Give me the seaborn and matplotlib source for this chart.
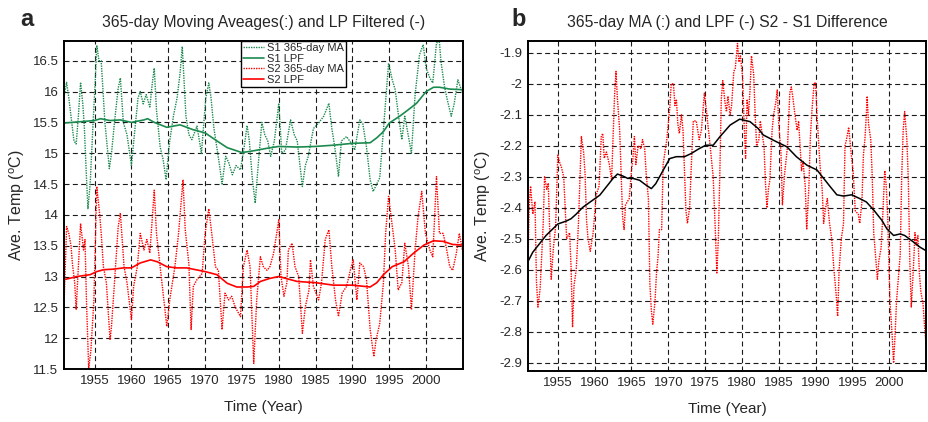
import matplotlib
matplotlib.use("Agg")
import matplotlib.pyplot as plt
import seaborn as sns
import pandas as pd

# ---- panel a: S1 365-day moving average
s1_ma_year = [1950.9, 1951.2, 1951.5, 1951.8, 1952.2, 1952.5, 1952.8, 1953.1, 1953.4, 1953.6,
              1953.9, 1954.1, 1954.4, 1954.8, 1955.1, 1955.3, 1955.6, 1955.9, 1956.4, 1957.0,
              1957.3, 1957.7, 1958.2, 1958.5, 1958.9, 1959.4, 1960.0, 1960.4, 1960.9, 1961.2,
              1961.6, 1962.0, 1962.5, 1962.8, 1963.1, 1963.4, 1963.9, 1964.3, 1964.7, 1965.2,
              1965.7, 1966.2, 1966.6, 1966.9, 1967.4, 1967.8, 1968.2, 1968.9, 1969.5, 1970.1,
              1970.5, 1970.8, 1971.2, 1971.9, 1972.3, 1972.8, 1973.2, 1973.7, 1974.2, 1974.8,
              1975.3, 1975.7, 1976.0, 1976.4, 1976.8, 1977.2, 1977.7, 1978.1, 1978.5, 1978.9,
              1979.4, 1980.0, 1980.4, 1980.9, 1981.6, 1982.1, 1982.5, 1983.2, 1983.6, 1984.0,
              1984.7, 1985.4, 1986.1, 1986.8, 1987.2, 1987.6, 1988.1, 1988.5, 1989.2, 1989.9,
              1990.3, 1991.0, 1991.4, 1991.9, 1992.4, 1992.8, 1993.3, 1993.7, 1994.2, 1994.9,
              1995.4, 1995.8, 1996.2, 1996.7, 1997.1, 1997.6, 1998.0, 1998.5, 1999.1, 1999.6,
              2000.0, 2000.5, 2000.9, 2001.4, 2001.8, 2002.0, 2002.5, 2002.9, 2003.4, 2003.8,
              2004.3, 2005.0]
s1_ma = [15.95, 16.15, 15.9, 15.6, 15.2, 15.15, 15.6, 16.15, 15.8, 15.45,
         14.6, 14.1, 14.5, 15.5, 16.2, 16.75, 16.5, 16.5, 15.5, 14.75,
         15.0, 15.5, 16.05, 16.22, 15.5, 15.3, 14.8, 15.3, 15.9, 16.0,
         15.8, 15.95, 15.75, 16.1, 16.38, 15.7, 15.1, 14.9, 14.57, 15.2,
         15.6, 15.9, 16.3, 16.73, 15.6, 15.3, 15.22, 15.44, 15.0, 15.9,
         16.14, 15.9, 15.4, 14.85, 14.5, 14.95, 14.85, 14.65, 14.8, 14.73,
         15.1, 15.45, 15.2, 14.6, 14.19, 14.8, 15.5, 15.3, 15.2, 14.95,
         15.2, 15.81, 15.0, 15.05, 15.54, 15.3, 15.2, 14.46, 14.8, 14.95,
         15.4, 15.49, 15.6, 15.81, 15.4, 15.1, 14.62, 15.2, 15.27, 15.15,
         15.05, 15.54, 15.48, 15.1, 14.57, 14.38, 14.5, 14.6, 15.38, 16.46,
         16.19, 16.03, 15.65, 15.22, 15.6, 15.27, 15.0, 15.95, 16.6, 16.76,
         16.38, 16.22, 16.14, 16.79, 16.8, 16.5, 16.07, 15.85, 15.6, 15.8,
         16.19, 15.95]

# ---- panel a: S2 365-day moving average
s2_ma_year = [1950.9, 1951.2, 1951.5, 1951.8, 1952.0, 1952.3, 1952.5, 1952.8, 1953.1, 1953.5,
              1953.7, 1953.9, 1954.2, 1954.5, 1954.9, 1955.3, 1955.7, 1955.9, 1956.2, 1956.6,
              1957.1, 1957.3, 1957.7, 1958.2, 1958.5, 1959.0, 1959.4, 1960.0, 1960.3, 1960.8,
              1961.2, 1961.7, 1962.1, 1962.5, 1963.1, 1963.4, 1963.9, 1964.3, 1964.8, 1965.2,
              1965.9, 1966.4, 1967.0, 1967.3, 1967.8, 1968.1, 1968.4, 1968.9, 1969.6, 1970.0,
              1970.5, 1970.9, 1971.4, 1971.8, 1972.3, 1972.7, 1973.2, 1973.6, 1974.1, 1974.8,
              1975.2, 1975.7, 1976.1, 1976.6, 1977.0, 1977.5, 1977.9, 1978.4, 1978.8, 1979.3,
              1980.0, 1980.3, 1980.7, 1981.1, 1981.3, 1981.8, 1982.2, 1982.7, 1983.2, 1983.6,
              1984.1, 1984.3, 1984.7, 1985.4, 1985.8, 1986.3, 1986.8, 1987.2, 1987.7, 1988.1,
              1988.6, 1989.2, 1989.7, 1990.1, 1990.6, 1991.0, 1991.5, 1991.9, 1992.4, 1992.9,
              1993.2, 1993.7, 1994.2, 1994.5, 1994.9, 1995.4, 1995.8, 1996.2, 1996.7, 1997.1,
              1997.6, 1998.0, 1998.5, 1998.9, 1999.4, 1999.9, 2000.5, 2000.9, 2001.4, 2001.8,
              2002.3, 2002.7, 2003.2, 2003.6, 2004.1, 2004.5, 2005.0]
s2_ma = [12.7, 13.81, 13.7, 13.5, 13.2, 12.9, 12.46, 13.16, 13.86, 13.43,
         13.6, 12.6, 11.51, 11.8, 12.6, 14.46, 14.0, 13.7, 13.16, 12.9,
         11.97, 12.2, 12.9, 13.8, 14.03, 13.16, 12.9, 12.3, 12.84, 13.16,
         13.7, 13.43, 13.6, 13.38, 14.4, 13.7, 13.16, 12.73, 12.19, 12.62,
         13.16, 13.7, 14.57, 13.76, 13.2, 12.14, 12.84, 12.95, 13.05, 13.7,
         14.1, 13.7, 13.16, 13.1, 12.14, 12.73, 12.62, 12.68, 12.5, 12.35,
         13.16, 13.43, 13.16, 11.59, 12.62, 13.32, 13.16, 13.1, 13.16, 13.38,
         13.92, 13.0, 12.68, 12.9, 13.43, 13.54, 13.16, 13.0, 12.08, 12.51,
         12.78, 13.27, 12.84, 12.62, 12.9, 13.6, 13.76, 13.16, 12.62, 12.35,
         12.73, 12.84, 13.1, 13.27, 12.62, 13.22, 13.16, 12.95, 12.14, 11.7,
         11.97, 12.24, 12.9, 13.7, 14.3, 13.82, 13.43, 12.78, 12.9, 13.54,
         13.16, 12.46, 13.43, 13.97, 14.38, 13.7, 13.43, 13.32, 14.62, 13.7,
         13.7, 13.49, 13.16, 13.1, 13.38, 13.7, 13.38]

# ---- panel a: low-pass filtered curves
s1_lpf_year = [1950.9, 1953.0, 1955.0, 1955.8, 1957.1, 1958.5, 1960.0, 1961.7, 1962.2, 1963.1,
               1964.8, 1966.6, 1968.4, 1970.0, 1971.6, 1973.0, 1975.0, 1976.6, 1978.4, 1980.0,
               1982.5, 1985.0, 1987.4, 1990.0, 1992.4, 1993.3, 1994.2, 1995.0, 1996.4, 1997.3,
               1998.7, 2000.0, 2001.0, 2001.8, 2003.2, 2005.0]
s1_lpf = [15.49, 15.51, 15.53, 15.56, 15.53, 15.54, 15.5, 15.54, 15.56, 15.5,
          15.42, 15.46, 15.38, 15.33, 15.2, 15.09, 15.01, 15.04, 15.08, 15.11,
          15.1, 15.11, 15.13, 15.16, 15.17, 15.25, 15.35, 15.49, 15.6, 15.68,
          15.81, 16.0, 16.07, 16.07, 16.04, 16.03]
s2_lpf_year = [1950.9, 1952.6, 1954.4, 1955.3, 1956.2, 1957.6, 1958.9, 1960.0, 1961.2, 1962.6,
               1963.5, 1964.8, 1966.1, 1967.5, 1970.0, 1971.6, 1973.0, 1974.3, 1975.7, 1976.6,
               1977.5, 1978.8, 1980.0, 1982.5, 1985.0, 1987.4, 1990.0, 1992.4, 1993.3, 1994.2,
               1995.4, 1997.0, 1998.3, 1999.7, 2001.0, 2002.3, 2003.6, 2005.0]
s2_lpf = [12.95, 13.0, 13.03, 13.08, 13.11, 13.12, 13.14, 13.14, 13.22, 13.27,
          13.24, 13.16, 13.14, 13.14, 13.08, 13.03, 12.89, 12.83, 12.83, 12.84,
          12.92, 12.97, 13.0, 12.92, 12.9, 12.86, 12.86, 12.83, 12.9, 13.03,
          13.16, 13.24, 13.38, 13.51, 13.58, 13.57, 13.52, 13.51]

# ---- panel b: S2 - S1 difference, 365-day MA
diff_ma_year = [1950.9, 1951.1, 1951.3, 1951.6, 1951.9, 1952.1, 1952.3, 1952.6, 1953.0, 1953.2,
                1953.5, 1953.7, 1953.9, 1954.1, 1954.4, 1954.7, 1955.0, 1955.2, 1955.5, 1955.8,
                1956.2, 1956.6, 1956.8, 1957.0, 1957.2, 1957.5, 1957.8, 1958.2, 1958.5, 1958.7,
                1958.9, 1959.1, 1959.4, 1959.8, 1960.2, 1960.6, 1960.9, 1961.1, 1961.3, 1961.6,
                1962.0, 1962.3, 1962.7, 1962.9, 1963.1, 1963.4, 1963.6, 1963.8, 1964.0, 1964.2,
                1964.7, 1965.0, 1965.2, 1965.4, 1965.6, 1965.9, 1966.3, 1966.5, 1966.8, 1967.0,
                1967.3, 1967.5, 1967.7, 1967.9, 1968.2, 1968.4, 1968.6, 1968.8, 1969.1, 1969.3,
                1969.8, 1970.2, 1970.4, 1970.7, 1970.9, 1971.1, 1971.3, 1971.5, 1971.8, 1972.0,
                1972.2, 1972.4, 1972.6, 1972.9, 1973.1, 1973.4, 1973.8, 1974.2, 1974.5, 1974.9,
                1975.2, 1975.6, 1976.1, 1976.4, 1976.6, 1976.8, 1977.0, 1977.2, 1977.4, 1977.7,
                1977.9, 1978.1, 1978.4, 1978.6, 1978.9, 1979.1, 1979.4, 1979.6, 1979.8, 1980.1,
                1980.3, 1980.5, 1980.7, 1980.9, 1981.1, 1981.3, 1981.6, 1981.8, 1982.0, 1982.3,
                1982.5, 1982.8, 1983.0, 1983.2, 1983.4, 1983.6, 1983.8, 1984.1, 1984.3, 1984.6,
                1984.8, 1985.0, 1985.3, 1985.5, 1985.8, 1986.2, 1986.5, 1986.7, 1986.9, 1987.2,
                1987.5, 1987.7, 1987.9, 1988.1, 1988.3, 1988.6, 1988.8, 1989.1, 1989.3, 1989.5,
                1989.8, 1990.0, 1990.2, 1990.4, 1990.6, 1990.9, 1991.1, 1991.3, 1991.6, 1991.9,
                1992.2, 1992.5, 1992.8, 1993.0, 1993.2, 1993.5, 1993.8, 1994.0, 1994.2, 1994.5,
                1994.9, 1995.1, 1995.4, 1995.8, 1996.0, 1996.3, 1996.5, 1996.7, 1996.9, 1997.0,
                1997.2, 1997.5, 1997.7, 1997.9, 1998.2, 1998.4, 1998.6, 1998.9, 1999.1, 1999.4,
                1999.6, 1999.8, 2000.1, 2000.4, 2000.6, 2000.8, 2001.0, 2001.3, 2001.5, 2001.7,
                2001.9, 2002.1, 2002.4, 2002.6, 2002.8, 2003.0, 2003.3, 2003.5, 2003.7, 2003.9,
                2004.1, 2004.3, 2004.6, 2004.8, 2005.0]
diff_ma = [-2.65, -2.4, -2.33, -2.42, -2.38, -2.64, -2.72, -2.66, -2.46, -2.3,
           -2.34, -2.32, -2.48, -2.63, -2.53, -2.46, -2.23, -2.25, -2.27, -2.3,
           -2.5, -2.48, -2.59, -2.785, -2.65, -2.6, -2.45, -2.17, -2.22, -2.29,
           -2.44, -2.5, -2.54, -2.48, -2.36, -2.33, -2.17, -2.16, -2.24, -2.22,
           -2.26, -2.31, -2.04, -1.96, -2.05, -2.15, -2.29, -2.43, -2.47, -2.39,
           -2.37, -2.28, -2.24, -2.17, -2.26, -2.2, -2.21, -2.18, -2.21, -2.29,
           -2.37, -2.645, -2.73, -2.775, -2.7, -2.61, -2.56, -2.47, -2.47, -2.26,
           -2.18, -2.08, -2.0, -2.0, -2.07, -2.05, -2.13, -2.16, -2.1, -2.15,
           -2.28, -2.41, -2.45, -2.4, -2.28, -2.12, -2.12, -2.18, -2.15, -2.03,
           -2.09, -2.18, -2.3, -2.48, -2.61, -2.5, -2.29, -2.05, -1.99, -2.06,
           -2.09, -2.04, -2.1, -2.07, -1.96, -1.95, -1.87, -1.93, -1.91, -1.98,
           -2.13, -2.24, -2.05, -2.1, -2.02, -1.91, -1.97, -2.1, -2.2, -2.18,
           -2.12, -2.17, -2.2, -2.32, -2.4, -2.34, -2.31, -2.15, -2.1, -2.06,
           -2.02, -2.13, -2.22, -2.39, -2.29, -2.2, -2.03, -2.01, -2.04, -2.1,
           -2.15, -2.12, -2.2, -2.28, -2.25, -2.33, -2.47, -2.33, -2.17, -2.09,
           -2.0, -1.995, -2.1, -2.18, -2.26, -2.34, -2.45, -2.41, -2.37, -2.45,
           -2.5, -2.6, -2.68, -2.75, -2.6, -2.5, -2.45, -2.2, -2.18, -2.14,
           -2.24, -2.28, -2.41, -2.42, -2.45, -2.38, -2.23, -2.18, -2.1, -2.04,
           -2.13, -2.18, -2.3, -2.48, -2.57, -2.63, -2.57, -2.53, -2.44, -2.28,
           -2.33, -2.43, -2.7, -2.81, -2.9, -2.81, -2.7, -2.61, -2.55, -2.3,
           -2.15, -2.09, -2.18, -2.31, -2.57, -2.72, -2.59, -2.48, -2.52, -2.49,
           -2.61, -2.67, -2.71, -2.78, -2.84]

# ---- panel b: low-pass filtered difference
diff_lpf_year = [1950.9, 1951.6, 1952.5, 1953.4, 1955.0, 1956.1, 1956.8, 1957.5, 1958.4, 1959.75,
                 1960.7, 1961.6, 1962.5, 1963.1, 1963.8, 1964.5, 1965.2, 1966.1, 1967.0, 1967.7,
                 1968.3, 1969.3, 1970.2, 1971.1, 1972.2, 1973.1, 1974.2, 1975.1, 1976.1, 1977.0,
                 1978.4, 1979.7, 1981.1, 1982.2, 1982.9, 1983.8, 1984.7, 1986.1, 1987.4, 1988.8,
                 1990.2, 1991.1, 1992.0, 1992.9, 1993.8, 1994.9, 1996.0, 1996.9, 1997.9, 1999.0,
                 1999.7, 2000.6, 2001.5, 2002.1, 2003.3, 2004.2, 2005.0]
diff_lpf = [-2.575, -2.543, -2.516, -2.489, -2.452, -2.443, -2.435, -2.42, -2.398, -2.375,
            -2.359, -2.332, -2.305, -2.291, -2.297, -2.305, -2.305, -2.311, -2.327, -2.338,
            -2.322, -2.279, -2.241, -2.235, -2.235, -2.225, -2.209, -2.198, -2.198, -2.171,
            -2.133, -2.114, -2.122, -2.144, -2.165, -2.176, -2.187, -2.203, -2.235, -2.262,
            -2.278, -2.305, -2.332, -2.358, -2.362, -2.358, -2.37, -2.381, -2.407, -2.44,
            -2.468, -2.489, -2.484, -2.489, -2.51, -2.527, -2.538]

GREEN = "#1b8a4e"
RED = "#ff0000"

sns.set_style("white")
plt.rcParams["font.family"] = ["Liberation Sans", "DejaVu Sans"]
plt.rcParams["mathtext.fontset"] = "custom"
plt.rcParams["mathtext.rm"] = "Liberation Sans"
plt.rcParams["mathtext.it"] = "Liberation Sans"

fig = plt.figure(figsize=(9.29, 4.22), dpi=100)
ax_a = fig.add_axes([64 / 929, 1 - 369 / 422, 399 / 929, 328 / 422])
ax_b = fig.add_axes([528 / 929, 1 - 371 / 422, 398 / 929, 330 / 422])

dot = (0, (1, 0.8))

sns.lineplot(x=s1_ma_year, y=s1_ma, ax=ax_a, color=GREEN, lw=1.0, ls=dot, sort=False, label="S1 365-day MA")
sns.lineplot(x=s1_lpf_year, y=s1_lpf, ax=ax_a, color=GREEN, lw=1.2, sort=False, label="S1 LPF")
sns.lineplot(x=s2_ma_year, y=s2_ma, ax=ax_a, color=RED, lw=1.0, ls=dot, sort=False, label="S2 365-day MA")
sns.lineplot(x=s2_lpf_year, y=s2_lpf, ax=ax_a, color=RED, lw=1.2, sort=False, label="S2 LPF")

sns.lineplot(x=diff_ma_year, y=diff_ma, ax=ax_b, color=RED, lw=1.0, ls=dot, sort=False)
sns.lineplot(x=diff_lpf_year, y=diff_lpf, ax=ax_b, color="black", lw=1.1, sort=False)

xticks = [1955, 1960, 1965, 1970, 1975, 1980, 1985, 1990, 1995, 2000]
a_yticks = [11.5, 12, 12.5, 13, 13.5, 14, 14.5, 15, 15.5, 16, 16.5]
a_ylabels = ["11.5", "12", "12.5", "13", "13.5", "14", "14.5", "15", "15.5", "16", "16.5"]
b_yticks = [-2.9, -2.8, -2.7, -2.6, -2.5, -2.4, -2.3, -2.2, -2.1, -2.0, -1.9]
b_ylabels = ["-2.9", "-2.8", "-2.7", "-2.6", "-2.5", "-2.4", "-2.3", "-2.2", "-2.1", "-2", "-1.9"]

ax_a.set_xlim(1950.85, 2005.0)
ax_a.set_ylim(11.5, 16.82)
ax_a.set_yticks(a_yticks, a_ylabels)
ax_b.set_xlim(1950.95, 2005.0)
ax_b.set_ylim(-2.926, -1.862)
ax_b.set_yticks(b_yticks, b_ylabels)

titles = ["365-day Moving Aveages(:) and LP Filtered (-)",
          "365-day MA (:) and LPF (-) S2 - S1 Difference"]
for ax, title, lx in [(ax_a, titles[0], -0.092), (ax_b, titles[1], -0.087)]:
    ax.set_xticks(xticks, [str(t) for t in xticks])
    ax.grid(True, color="0.1", lw=0.8, ls=(0, (4.5, 3)))
    ax.set_axisbelow(True)
    ax.tick_params(direction="in", length=3, labelsize=9.5, color="black", pad=4)
    for sp in ax.spines.values():
        sp.set_color("black")
        sp.set_linewidth(1.4)
    ax.set_title(title, fontsize=11.3, pad=10)
    ax.set_xlabel("Time (Year)", fontsize=11)
    ax.set_ylabel("Ave. Temp ($^o$C)", fontsize=11.5)
    ax.xaxis.set_label_coords(0.5, -0.095)
    ax.yaxis.set_label_coords(lx, 0.5)

leg = ax_a.legend(loc="upper center", bbox_to_anchor=(0.575, 1.0), borderaxespad=0,
                  fancybox=False, framealpha=1, edgecolor="black", fontsize=8,
                  handlelength=1.9, handletextpad=0.2, labelspacing=0.05,
                  borderpad=0.2)
leg.get_frame().set_linewidth(1.0)

fig.text(20 / 929, 1 - 26 / 422, "a", fontsize=17, fontweight="bold", va="baseline")
fig.text(511 / 929, 1 - 26 / 422, "b", fontsize=17, fontweight="bold", va="baseline")

fig.savefig("out.png", dpi=100)
